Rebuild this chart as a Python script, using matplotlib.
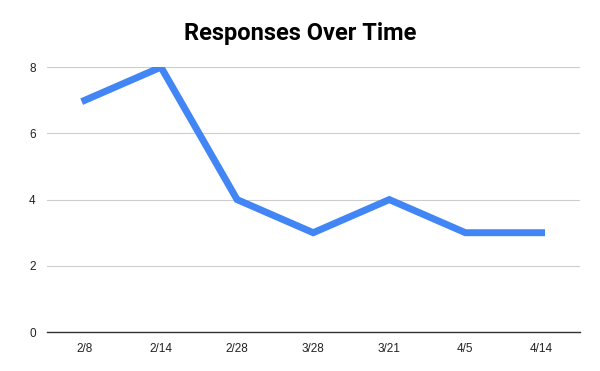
import matplotlib
matplotlib.use("Agg")
import matplotlib.pyplot as plt

# datos
fechas = ["2/8", "2/14", "2/28", "3/28", "3/21", "4/5", "4/14"]
respuestas = [7, 8, 4, 3, 4, 3, 3]

fig = plt.figure(figsize=(6, 3.71), dpi=100, facecolor="white")
ax = fig.add_axes([0.078, 0.105, 0.888, 0.714])

x = range(len(fechas))
ax.plot(x, respuestas, color="#4285F4", linewidth=5, solid_joinstyle="miter", zorder=3)

ax.set_xlim(-0.5, len(fechas) - 0.5)
ax.set_ylim(0, 8)
ax.set_yticks([0, 2, 4, 6, 8])
ax.set_xticks(list(x))
ax.set_xticklabels(fechas)

# líneas horizontales
ax.grid(axis="y", color="#cccccc", linewidth=0.8)
for s in ["top", "right", "left"]:
    ax.spines[s].set_visible(False)
ax.spines["bottom"].set_color("#333333")
ax.spines["bottom"].set_linewidth(1)
ax.tick_params(length=0, labelsize=8.5, colors="#222222", pad=8)
for lbl in ax.get_xticklabels() + ax.get_yticklabels():
    lbl.set_fontfamily("Liberation Sans")

fig.suptitle("Responses Over Time", x=0.5, y=0.94, fontsize=17,
             fontweight="bold", fontfamily="Roboto", color="black")

fig.savefig("out.png", dpi=100)
